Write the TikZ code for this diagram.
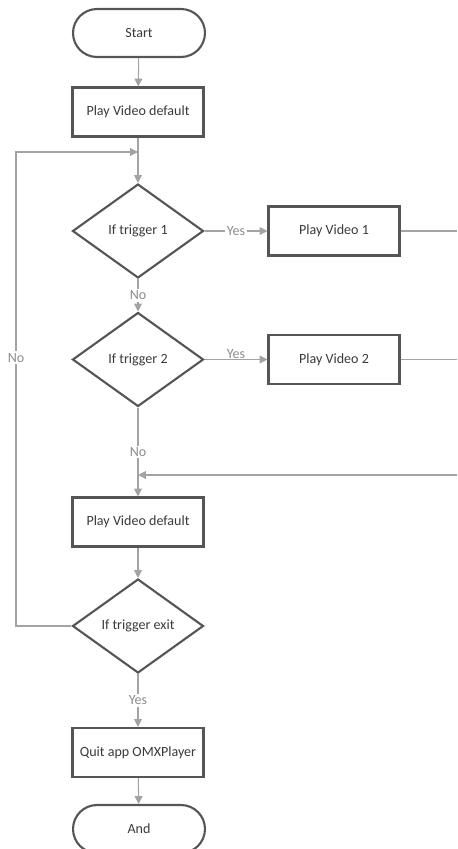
\documentclass[tikz,border=0pt]{standalone}
\usepackage{fontspec}
\setmainfont{Carlito}
\usepackage{xcolor}
\usepackage{tikz}
\usetikzlibrary{positioning,calc,shapes.geometric,arrows.meta}
\definecolor{ShapeEdge}{HTML}{555555}
\definecolor{FlowGray}{HTML}{A3A3A3}
\definecolor{InkDark}{HTML}{3A3A3A}
\definecolor{TagGray}{HTML}{8C8C8C}

\tikzset{
  terminal/.style={draw=ShapeEdge, line width=1.2pt, rounded corners=0.48cm, minimum width=2.64cm, minimum height=0.96cm, text=InkDark},
  process/.style={draw=ShapeEdge, line width=1.2pt, minimum width=2.62cm, minimum height=0.98cm, text=InkDark},
  decision/.style={draw=ShapeEdge, line width=1.2pt, diamond, aspect=1.4, inner sep=0pt, minimum width=2.62cm, minimum height=1.88cm, text=InkDark},
  flow/.style={draw=FlowGray, line width=0.6pt, -{Triangle[length=4.5pt,width=4.5pt]}},
  plain/.style={draw=FlowGray, line width=0.6pt},
  tag/.style={fill=white, inner sep=1pt, text=TagGray}
}

\begin{document}
\begin{tikzpicture}[x=0.02cm, y=-0.02cm, font=\fontsize{8}{9.5}\selectfont]
    \useasboundingbox (0,0) rectangle (457,849);

    % shapes
    \node[terminal] (start) at (139,33) {Start};
    \node[process] (pv0) at (138,112) {Play Video default};
    \node[decision] (d1) at (138,231) {If trigger 1};
    \node[process] (v1) at (334,231) {Play Video 1};
    \node[decision] (d2) at (138,359.5) {If trigger 2};
    \node[process] (v2) at (334,359.5) {Play Video 2};
    \node[process] (pv3) at (138,522) {Play Video default};
    \node[decision] (d3) at (138,626) {If trigger exit};
    \node[process] (quit) at (138,752.5) {Quit app OMXPlayer};
    \node[terminal] (stop) at (139,829) {And};

    % helper points
    \coordinate (entry) at (138,152);
    \coordinate (back) at (16,152);
    \coordinate (r1) at (457,231);
    \coordinate (r2) at (457,359.5);
    \coordinate (r3) at (457,475);
    \coordinate (join) at (138,475);

    % connectors
    \draw[flow] (start) -- (pv0);
    \draw[plain] (pv0) -- (entry);
    \draw[flow] (entry) -- (d1);
    \draw[flow] (d1) -- node[tag]{Yes} (v1);
    \draw[plain] (v1) -- (r1);
    \draw[flow] (d1) -- node[tag]{No} (d2);
    \draw[flow] (d2) -- node[tag, above=-1pt, fill=none]{Yes} (v2);
    \draw[plain] (v2) -- (r2);
    \draw[flow] (d2) -- node[tag, pos=0.5]{No} (pv3);
    \draw[flow] (r3) -- (join);
    \draw[flow] (pv3) -- (d3);
    \draw[flow] (d3.west) -| node[tag, pos=0.783]{No} (back) -- (entry);
    \draw[flow] (d3) -- node[tag]{Yes} (quit);
    \draw[flow] (quit) -- (stop);
\end{tikzpicture}
\end{document}
